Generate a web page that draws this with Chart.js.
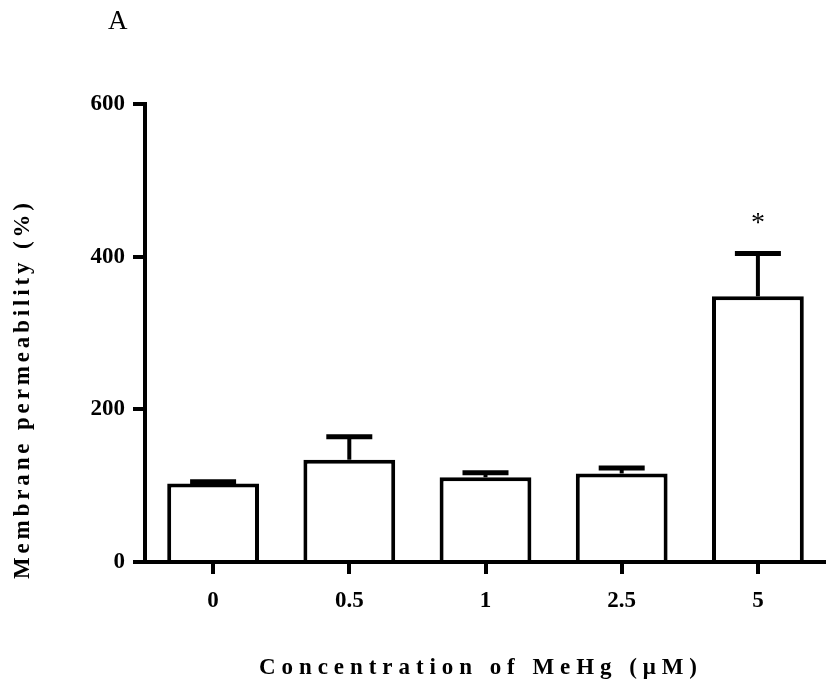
<!DOCTYPE html>
<html>
<head>
<meta charset="utf-8">
<script src="https://cdn.jsdelivr.net/npm/chart.js@4"></script>
<style>
  html, body { margin: 0; padding: 0; background: #fff; }
</style>
</head>
<body>
<canvas id="chart" width="826" height="684"></canvas>
<script>
// Data
const concentrations = ['0', '0.5', '1', '2.5', '5'];
const permeability = [103, 134, 111, 116, 348];
const permeabilitySem = [2, 30, 6, 7, 56];
const significant = [false, false, false, false, true];
const yTicks = [0, 200, 400, 600];

const SERIF = '"Liberation Serif", "Times New Roman", serif';

// draw text with letter spacing so it covers a given length
function spacedText(ctx, text, cx, cy, target) {
    const natural = ctx.measureText(text).width;
    const gap = (target - natural) / (text.length - 1);
    let x = cx - target / 2;
    for (const ch of text) {
        ctx.fillText(ch, x, cy);
        x += ctx.measureText(ch).width + gap;
    }
}

const errorBars = {
    id: 'errorBars',
    afterDatasetsDraw(chart) {
        const ctx = chart.ctx;
        const y = chart.scales.y;
        const meta = chart.getDatasetMeta(0);
        ctx.save();
        ctx.strokeStyle = '#000';
        meta.data.forEach((bar, i) => {
            const top = y.getPixelForValue(permeability[i] + permeabilitySem[i]);
            const base = y.getPixelForValue(permeability[i]);
            ctx.lineWidth = 4;
            ctx.beginPath();
            ctx.moveTo(bar.x, base);
            ctx.lineTo(bar.x, top);
            ctx.stroke();
            ctx.lineWidth = 5;
            ctx.beginPath();
            ctx.moveTo(bar.x - 23, top);
            ctx.lineTo(bar.x + 23, top);
            ctx.stroke();
            if (significant[i]) {
                ctx.fillStyle = '#000';
                ctx.font = '28px ' + SERIF;
                ctx.textAlign = 'center';
                ctx.textBaseline = 'middle';
                ctx.fillText('*', bar.x, top - 30);
            }
        });
        ctx.restore();
    }
};

const labels = {
    id: 'labels',
    afterDraw(chart) {
        const ctx = chart.ctx;
        ctx.save();
        ctx.fillStyle = '#000';
        ctx.textBaseline = 'middle';
        ctx.textAlign = 'left';

        ctx.font = '27px ' + SERIF;
        ctx.fillText('A', 108, 22);

        ctx.font = 'bold 23px ' + SERIF;
        spacedText(ctx, 'Concentration of MeHg (\u03bcM)', 478, 668, 438);

        ctx.translate(23, 391);
        ctx.rotate(-Math.PI / 2);
        spacedText(ctx, 'Membrane permeability (%)', 0, 0, 376);
        ctx.restore();
    }
};

new Chart(document.getElementById('chart'), {
    type: 'bar',
    data: {
        labels: concentrations,
        datasets: [{
            data: permeability,
            backgroundColor: '#fff',
            borderColor: '#000',
            borderWidth: 4,
            categoryPercentage: 1,
            barPercentage: 0.674
        }]
    },
    options: {
        responsive: false,
        animation: false,
        devicePixelRatio: 1,
        layout: { padding: { top: 104, right: -2, left: 0, bottom: 0 } },
        plugins: {
            legend: { display: false },
            tooltip: { enabled: false }
        },
        scales: {
            x: {
                grid: { display: true, drawOnChartArea: false, drawTicks: true, tickLength: 12, lineWidth: 4, color: '#000', offset: false },
                border: { display: true, width: 4, color: '#000' },
                ticks: { color: '#000', padding: 13, font: { family: SERIF, size: 23, weight: 'bold' } },
                afterFit(scale) { scale.height = 122; }
            },
            y: {
                min: 0,
                max: 600,
                afterBuildTicks(scale) { scale.ticks = yTicks.map(v => ({ value: v })); },
                grid: { display: true, drawOnChartArea: false, drawTicks: true, tickLength: 12, lineWidth: 4, color: '#000' },
                border: { display: true, width: 4, color: '#000' },
                ticks: { color: '#000', padding: 8, font: { family: SERIF, size: 23, weight: 'bold' } },
                afterFit(scale) { scale.width = 145; }
            }
        }
    },
    plugins: [errorBars, labels]
});
</script>
</body>
</html>
